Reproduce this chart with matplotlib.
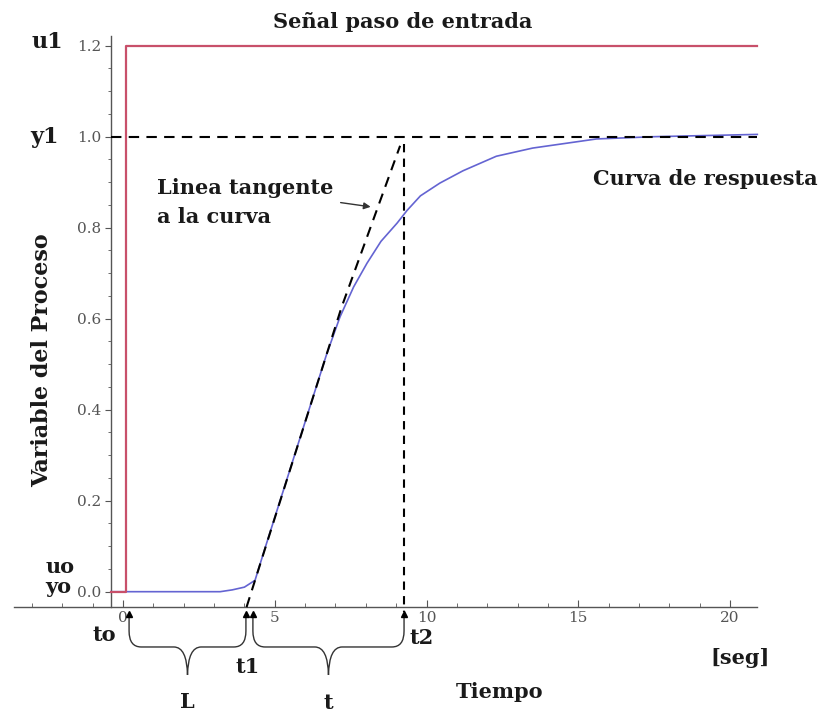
import matplotlib
matplotlib.use('Agg')
import matplotlib.pyplot as plt
from matplotlib.path import Path
from matplotlib.patches import PathPatch
from matplotlib.ticker import FixedLocator

# datos
t_curva = [-0.4, 3.2, 3.6, 4.0, 4.35, 4.7, 5.2, 5.7, 6.2, 6.7, 7.15, 7.6, 8.04, 8.5,
           9.03, 9.36, 9.8, 10.44, 11.2, 12.3, 13.5, 15.6, 17.5, 20.9]
y_curva = [0.0, 0.0, 0.004, 0.01, 0.025, 0.10, 0.205, 0.31, 0.415, 0.52, 0.604, 0.67,
           0.722, 0.77, 0.81, 0.838, 0.87, 0.898, 0.925, 0.957, 0.975, 0.995, 1.0, 1.005]

t_paso = [-0.4, 0.1, 0.1, 20.9]
u_paso = [0.0, 0.0, 1.2, 1.2]

t_tang = [4.07, 7.2, 9.13]
y_tang = [-0.034, 0.625, 0.98]

t0, t1a, t1b, t2 = 0.2, 4.05, 4.28, 9.26
y1 = 1.0

x_ticks = [0, 5, 10, 15, 20]
y_ticks = [0.0, 0.2, 0.4, 0.6, 0.8, 1.0, 1.2]
x_menores = [v for v in range(-3, 21) if v % 5 != 0]
y_menores = [i * 0.05 for i in range(1, 24) if i % 4 != 0]

W, H = 827, 713
fig = plt.figure(figsize=(W / 100, H / 100), dpi=100)
ax = fig.add_axes([0, 0, 1, 1])
ax.set_xlim(-4.053, 23.196)
ax.set_ylim(-0.2666, 1.3004)

gris = '#555555'
for lado in ['top', 'right']:
    ax.spines[lado].set_visible(False)
ax.spines['left'].set_position(('data', -0.4))
ax.spines['bottom'].set_position(('data', -0.034))
ax.spines['left'].set_bounds(-0.034, 1.222)
ax.spines['bottom'].set_bounds(-3.6, 20.9)
for lado in ['left', 'bottom']:
    ax.spines[lado].set_color(gris)
    ax.spines[lado].set_linewidth(1.0)

ax.set_xticks(x_ticks)
ax.set_yticks(y_ticks)
ax.set_yticklabels([f'{v:.1f}' for v in y_ticks])
ax.xaxis.set_minor_locator(FixedLocator(x_menores))
ax.yaxis.set_minor_locator(FixedLocator(y_menores))
ax.tick_params(axis='x', which='major', direction='in', length=5, color=gris,
               labelcolor=gris, labelsize=11, pad=3)
ax.tick_params(axis='x', which='minor', direction='in', length=3, color=gris)
ax.tick_params(axis='y', which='major', direction='out', length=4, color=gris,
               labelcolor=gris, labelsize=11, pad=3)
ax.tick_params(axis='y', which='minor', direction='out', length=2, color=gris)
for lab in ax.get_xticklabels() + ax.get_yticklabels():
    lab.set_fontfamily('DejaVu Serif')

# curvas
ax.plot(t_curva, y_curva, color='#6464d2', lw=1.2, zorder=3)
ax.plot(t_paso, u_paso, color='#c8506a', lw=1.6, zorder=4)
ax.plot(t_tang, y_tang, color='black', lw=1.5, ls=(0, (5, 3.5)), zorder=5)
ax.plot([-0.4, 20.9], [y1, y1], color='black', lw=1.5, ls=(0, (5, 3.5)), zorder=5)
ax.plot([t2, t2], [0.985, -0.045], color='black', lw=1.5, ls=(0, (4, 3)), zorder=5)

# llaves con flechas
y_fl, y_h, y_v = -0.048, -0.1215, -0.183


def llave(xa, xb):
    xm = (xa + xb) / 2
    verts = [(xa, y_fl), (xa, y_h + 0.035), (xa, y_h), (xa + 0.4, y_h),
             (xm - 0.45, y_h), (xm - 0.02, y_h), (xm, y_v),
             (xm + 0.02, y_h), (xm + 0.45, y_h),
             (xb - 0.4, y_h), (xb, y_h), (xb, y_h + 0.035), (xb, y_fl)]
    codes = [Path.MOVETO, Path.LINETO, Path.CURVE3, Path.CURVE3,
             Path.LINETO, Path.CURVE3, Path.CURVE3,
             Path.CURVE3, Path.CURVE3,
             Path.LINETO, Path.CURVE3, Path.CURVE3, Path.LINETO]
    ax.add_patch(PathPatch(Path(verts, codes), fill=False, ec='#333333', lw=1.0))
    ax.plot([xa, xb], [y_fl, y_fl], ls='none', marker='^', ms=5, color='black')


llave(t0, t1a)
llave(t1b, t2)

ax.annotate('', xy=(8.25, 0.845), xytext=(7.08, 0.856),
            arrowprops=dict(arrowstyle='-|>', color='#333333', lw=1.0,
                            mutation_scale=10))


def txt(x, y, s, size=15, ha='center', **kw):
    fig.text(x / W, 1 - y / H, s, ha=ha, va='center', fontsize=size,
             fontfamily='DejaVu Serif', fontweight='bold', color='#1a1a1a', **kw)


txt(403, 22, 'Señal paso de entrada')
txt(47, 42, 'u1', size=16)
txt(45, 137, 'y1', size=16)
txt(60, 567, 'uo')
txt(58, 587, 'yo')
txt(104, 635, 'to')
txt(248, 667, 't1')
txt(422, 638, 't2')
txt(187, 702, 'L')
txt(328, 703, 't')
txt(740, 658, '[seg]')
txt(500, 692, 'Tiempo')
txt(157, 188, 'Linea tangente', ha='left')
txt(157, 217, 'a la curva', ha='left')
txt(705, 179, 'Curva de respuesta')
txt(42, 360, 'Variable del Proceso', size=16, rotation=90)

fig.savefig('out.png', dpi=100)
